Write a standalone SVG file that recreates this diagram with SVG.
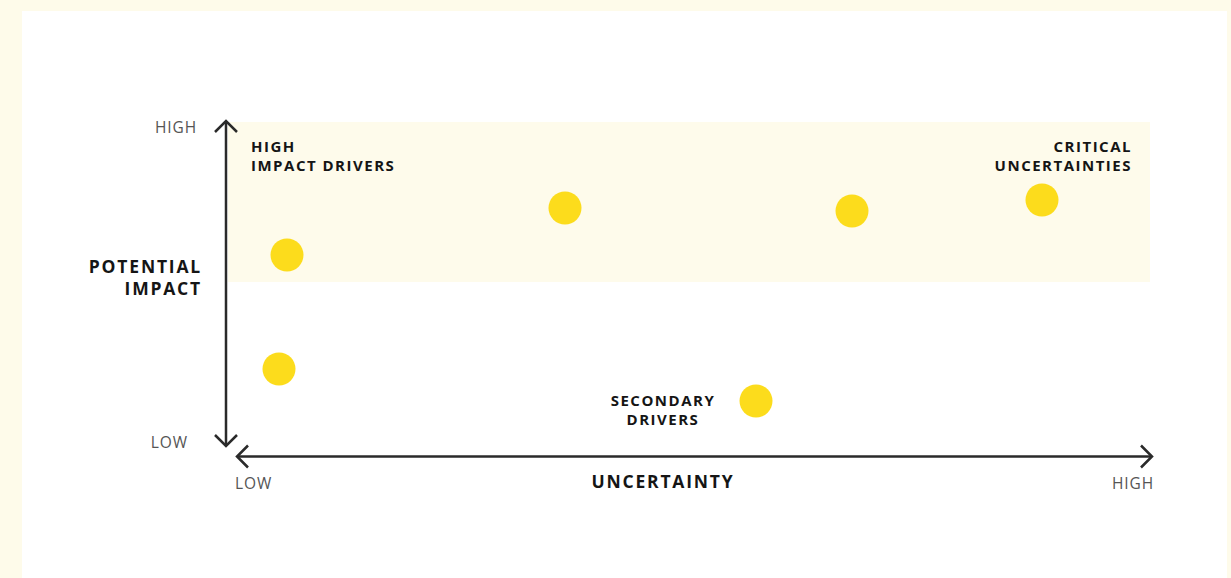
<svg xmlns="http://www.w3.org/2000/svg" width="1231" height="578" viewBox="0 0 1231 578">
<style>
.bold{font-family:"Open Sans","Liberation Sans",sans-serif;font-weight:700;fill:#151515;}
.lbl{font-size:15px;letter-spacing:1.5px;}
.title{font-size:17.5px;letter-spacing:1.8px;}
.axl{font-family:"Open Sans","Liberation Sans",sans-serif;font-size:15.5px;fill:#555;letter-spacing:0.9px;}
.dot{fill:#FCDC1C;}
.ax{stroke:#2a2a2a;stroke-width:2.5;fill:none;}
</style>
<rect x="0" y="0" width="1231" height="578" fill="#FEFBEA"/>
<rect x="22" y="11" width="1205" height="567" fill="#FFFFFF"/>
<rect x="228" y="122" width="922" height="160" fill="#FEFBEB"/>
<g id="connectors">
<line class="ax" x1="226" y1="121" x2="226" y2="446"/>
<polyline class="ax" points="215,132 226,121 237,132"/>
<polyline class="ax" points="215,435 226,446 237,435"/>
<line class="ax" x1="237" y1="456.5" x2="1152" y2="456.5"/>
<polyline class="ax" points="248,445.5 237,456.5 248,467.5"/>
<polyline class="ax" points="1141,445.5 1152,456.5 1141,467.5"/>
</g>
<g id="axis-labels">
<text class="axl" x="197" y="133" text-anchor="end">HIGH</text>
<text class="axl" x="188" y="448" text-anchor="end">LOW</text>
<text class="axl" x="235" y="489">LOW</text>
<text class="axl" x="1154" y="489" text-anchor="end">HIGH</text>
<text class="bold title" x="202" y="273" text-anchor="end">POTENTIAL</text>
<text class="bold title" x="202" y="295" text-anchor="end">IMPACT</text>
<text class="bold title" x="663" y="488" text-anchor="middle">UNCERTAINTY</text>
</g>
<g id="high-impact-drivers">
<text class="bold lbl" x="251" y="152">HIGH</text>
<text class="bold lbl" x="251" y="171">IMPACT DRIVERS</text>
</g>
<g id="critical-uncertainties">
<text class="bold lbl" x="1132" y="152" text-anchor="end">CRITICAL</text>
<text class="bold lbl" x="1132" y="171" text-anchor="end">UNCERTAINTIES</text>
</g>
<g id="secondary-drivers">
<text class="bold lbl" x="663" y="406" text-anchor="middle">SECONDARY</text>
<text class="bold lbl" x="663" y="425" text-anchor="middle">DRIVERS</text>
</g>
<g id="dot1"><circle class="dot" cx="287" cy="255" r="16.5"/></g>
<g id="dot2"><circle class="dot" cx="565" cy="208" r="16.5"/></g>
<g id="dot3"><circle class="dot" cx="852" cy="211" r="16.5"/></g>
<g id="dot4"><circle class="dot" cx="1042" cy="200" r="16.5"/></g>
<g id="dot5"><circle class="dot" cx="279" cy="369" r="16.5"/></g>
<g id="dot6"><circle class="dot" cx="756" cy="401" r="16.5"/></g>
</svg>
